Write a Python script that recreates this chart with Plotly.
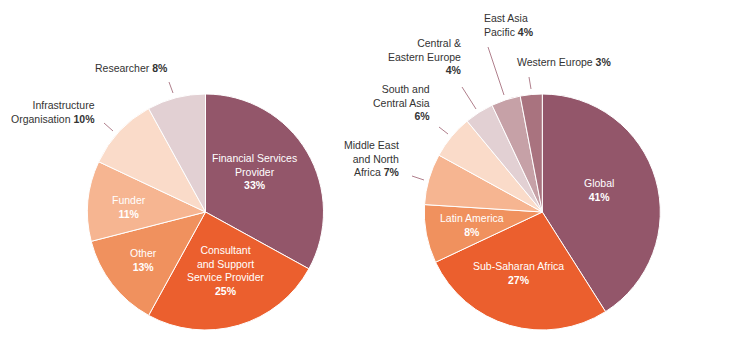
import plotly.graph_objects as go

W, H = 737, 353

left_labels = ["Financial Services Provider", "Consultant and Support Service Provider", "Other",
               "Funder", "Infrastructure Organisation", "Researcher"]
left_values = [33, 25, 13, 11, 10, 8]
left_colors = ["#93566A", "#EB5F2E", "#F0915E", "#F6B591", "#FADBC9", "#E2D0D3"]

right_labels = ["Global", "Sub-Saharan Africa", "Latin America", "Middle East and North Africa",
                "South and Central Asia", "Central & Eastern Europe", "East Asia Pacific", "Western Europe"]
right_values = [41, 27, 8, 7, 6, 4, 4, 3]
right_colors = ["#93566A", "#EB5F2E", "#F0915E", "#F6B591", "#FADBC9", "#E2D0D3", "#C6A1A7", "#A9737F"]

FONT = "Liberation Sans"

fig = go.Figure()

def px_dom(x0, x1, y0, y1):
    return dict(x=[x0 / W, x1 / W], y=[1 - y1 / H, 1 - y0 / H])

fig.add_trace(go.Pie(labels=left_labels, values=left_values, sort=False, direction="clockwise",
                     rotation=0, marker=dict(colors=left_colors, line=dict(color="white", width=1)),
                     textinfo="none", hoverinfo="label+percent", showlegend=False,
                     domain=px_dom(87.5, 323.5, 94, 330)))
fig.add_trace(go.Pie(labels=right_labels, values=right_values, sort=False, direction="clockwise",
                     rotation=0, marker=dict(colors=right_colors, line=dict(color="white", width=1)),
                     textinfo="none", hoverinfo="label+percent", showlegend=False,
                     domain=px_dom(424.3, 660.3, 94, 330)))

# text annotations: (text, x px, y px, xanchor, color)
white = "white"
dark = "#333333"
ann = [
    ("Financial Services<br>Provider<br><b>33%</b>", 254, 171, "center", white),
    ("Consultant<br>and Support<br>Service Provider<br><b>25%</b>", 226, 270, "center", white),
    ("Other<br><b>13%</b>", 143, 260, "center", white),
    ("Funder<br><b>11%</b>", 129, 207, "center", white),
    ("Infrastructure<br>Organisation <b>10%</b>", 97, 112, "right", dark),
    ("Researcher <b>8%</b>", 131, 68, "center", dark),
    ("Global<br><b>41%</b>", 599, 190, "center", white),
    ("Sub-Saharan Africa<br><b>27%</b>", 518, 273, "center", white),
    ("Latin America<br><b>8%</b>", 472, 225, "center", white),
    ("Middle East<br>and North<br>Africa <b>7%</b>", 402, 158, "right", dark),
    ("South and<br>Central Asia<br><b>6%</b>", 432, 103, "right", dark),
    ("Central &<br>Eastern Europe<br><b>4%</b>", 464, 57, "right", dark),
    ("East Asia<br>Pacific <b>4%</b>", 482, 25, "left", dark),
    ("Western Europe <b>3%</b>", 515, 62, "left", dark),
]
for t, x, y, xa, c in ann:
    fig.add_annotation(text=t, x=x / W, y=1 - y / H, xref="paper", yref="paper",
                       xanchor=xa, yanchor="middle", align=xa if xa != "center" else "center",
                       showarrow=False, font=dict(family=FONT, size=10.5, color=c))

leaders = [
    (169, 82, 173, 93), (104, 123, 113, 131),
    (412, 176, 424, 180), (439, 127, 448, 134), (462, 87, 476, 109),
    (488, 47, 504, 95), (529, 77, 531, 89),
]
for x0, y0, x1, y1 in leaders:
    fig.add_shape(type="line", xref="paper", yref="paper",
                  x0=x0 / W, y0=1 - y0 / H, x1=x1 / W, y1=1 - y1 / H,
                  line=dict(color="#B07F8C", width=1))

fig.update_layout(width=W, height=H, margin=dict(l=0, r=0, t=0, b=0),
                  paper_bgcolor="white", plot_bgcolor="white",
                  font=dict(family=FONT, size=10.5, color=dark))
fig.write_html("out.html")
